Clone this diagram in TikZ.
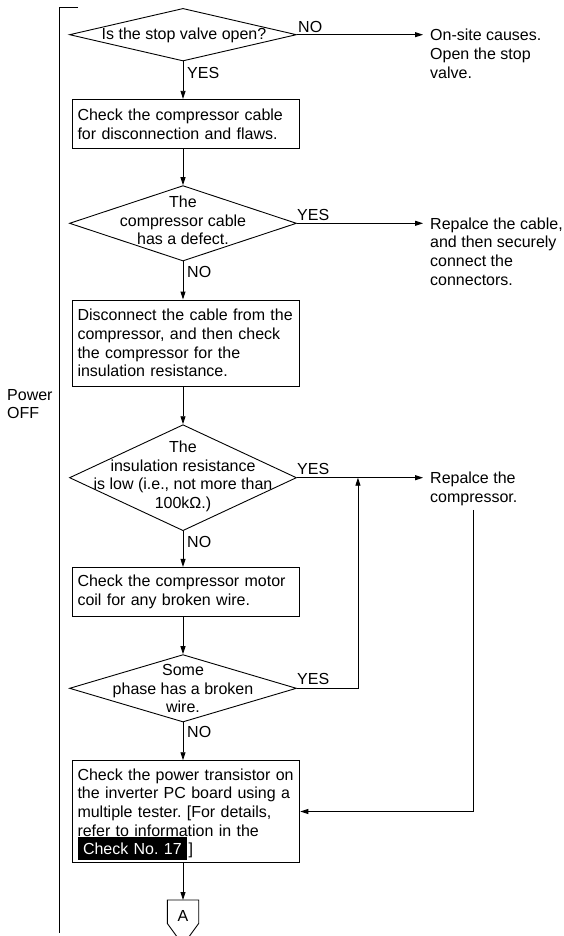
\documentclass[tikz,border=0pt]{standalone}
\usepackage{fontspec}
\setmainfont{Liberation Sans}
\usetikzlibrary{shapes.geometric,arrows.meta,calc}
\begin{document}
\frenchspacing
\begin{tikzpicture}[x=1pt,y=-1pt,
  txt/.style={font=\fontsize{16}{18.6}\selectfont\frenchspacing, inner sep=0pt},
  arr/.style={draw, line width=0.9pt, -{Triangle[length=8pt,width=5pt]}},
  ln/.style={draw, line width=0.9pt},
  dec/.style={shape=diamond, draw, line width=0.9pt, inner sep=0pt},
  box/.style={txt, draw, line width=0.9pt, text width=217pt, align=left, inner xsep=5.4pt, inner ysep=0pt},
  lab/.style={txt, anchor=west},
  side/.style={txt, anchor=north west, align=left},
  dtext/.style={txt, align=center}]
\useasboundingbox (0,0) rectangle (564,936);

% bracket and side label
\coordinate (brt) at (78,7);
\coordinate (brc) at (59,7);
\coordinate (brb) at (59,933);
\draw[ln] (brt) -- (brc) -- (brb);
\node[txt, anchor=west, align=left] (pw) at (7,404) {Power\\OFF};

% decisions
\node[dec, minimum width=227pt, minimum height=52.6pt] (d1) at (183,34.7) {};
\node[dtext] (d1t) at (184,35) {Is the stop valve open?};
\node[dec, minimum width=227pt, minimum height=75.4pt] (d2) at (183,223.3) {};
\node[dtext] (d2t) at (183,220.6) {The\\compressor cable\\has a defect.};
\node[dec, minimum width=227pt, minimum height=106pt] (d3) at (183,477.7) {};
\node[dtext] (d3t) at (183,476.5) {The\\insulation resistance\\is low (i.e., not more than\\100kΩ.)};
\node[dec, minimum width=227pt, minimum height=67.4pt] (d4) at (183,688.3) {};
\node[dtext] (d4t) at (183,688.8) {Some\\phase has a broken\\wire.};

% process boxes
\node[box, minimum height=49.4pt] (b1) at (186,124) {Check the compressor cable\\for disconnection and flaws.};
\node[box, minimum height=86pt] (b2) at (186,343) {Disconnect the cable from the\\compressor, and then check\\the compressor for the\\insulation resistance.};
\node[box, minimum height=49.4pt] (b3) at (186,592) {Check the compressor motor\\coil for any broken wire.};
\node[box, minimum height=101.6pt] (b4) at (186,811.5) {\rule{0pt}{17pt}Check the power transistor on\\the inverter PC board using a\\multiple tester. [For details,\\refer to information in the\\{\fboxsep=0pt\colorbox{black}{\rule[-4.9pt]{0pt}{22.4pt}\hspace{5.5pt}\textcolor{white}{Check No. 17}\hspace{5.5pt}}}\hspace{1.5pt}]};

% side results
\node[side] (t1) at (430,29.2) {On-site causes.\\Open the stop\\valve.};
\node[side] (t2) at (430,217.5) {Repalce the cable,\\and then securely\\connect the\\connectors.};
\node[side] (t3) at (430,472) {Repalce the\\compressor.};

% labels
\node[lab] (no1) at (298,27) {NO};
\node[lab] (yes1) at (187,73) {YES};
\node[lab] (yes2) at (297,215) {YES};
\node[lab] (no2) at (187,271.7) {NO};
\node[lab] (yes3) at (297,468.7) {YES};
\node[lab] (no3) at (187,541.7) {NO};
\node[lab] (yes4) at (297,679.3) {YES};
\node[lab] (no4) at (187,732.3) {NO};

% off-page connector A
\node[txt, minimum width=31pt, minimum height=23pt, anchor=north] (pA) at (183,900) {};
\coordinate (pAtip) at (183,945);
\draw[ln] (pA.south west) -- (pA.north west) -- (pA.north east) -- (pA.south east) -- (pAtip) -- cycle;
\node[txt] (pAt) at (183,915.5) {A};

% connectors
\draw[arr, shorten >=7pt] (d1.east) -- (d1.east -| t1.west);
\draw[arr, shorten >=7pt] (d2.east) -- (d2.east -| t2.west);
\draw[arr, shorten >=7pt] (d3.east) -- (d3.east -| t3.west);
\draw[arr] (d1.south) -- (d1.south |- b1.north);
\draw[arr] (d2.north |- b1.south) -- (d2.north);
\draw[arr] (d2.south) -- (d2.south |- b2.north);
\draw[arr] (d3.north |- b2.south) -- (d3.north);
\draw[arr] (d3.south) -- (d3.south |- b3.north);
\draw[arr] (d4.north |- b3.south) -- (d4.north);
\draw[arr] (d4.south) -- (d4.south |- b4.north);
\draw[arr] (pA.north |- b4.south) -- (pA.north);
\path (d3.east) ++(61,0) coordinate (join);
\draw[arr] (d4.east) -| (join);
\draw[arr] ($(t3.south)+(0,4)$) |- (b4.east);
\end{tikzpicture}
\end{document}
